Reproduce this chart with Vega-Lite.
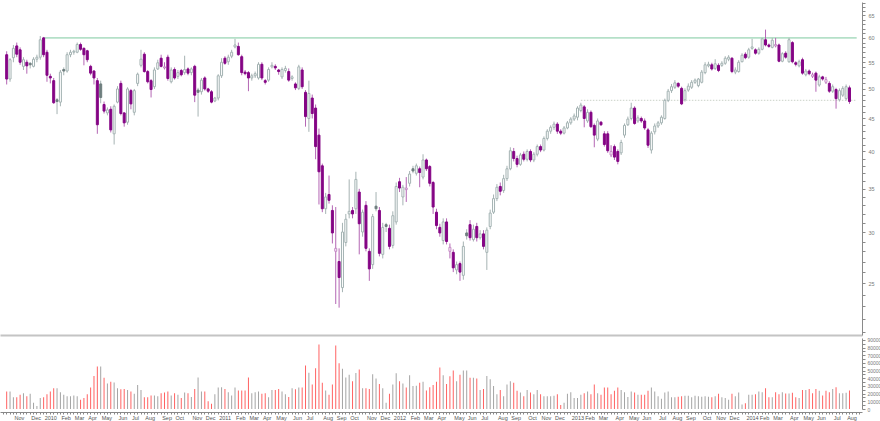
{
"$schema": "https://vega.github.io/schema/vega-lite/v6.json",
"padding": 0,
"background": "white",
"config": {"view": {"stroke": null}, "concat": {"spacing": 1}, "axis": {"labelFont": "Liberation Sans", "titleFont": "Liberation Sans"}},
"resolve": {"scale": {"x": "independent", "y": "independent"}},
"datasets": {
"ohlc": [
{"d":"2009-10-19","o":56.5,"h":57.2,"l":50.8,"c":51.8,"v":22800},
{"d":"2009-10-26","o":51.8,"h":55.8,"l":51.3,"c":55.5,"v":22800},
{"d":"2009-11-02","o":55.9,"h":58.5,"l":55,"c":57.8,"v":15200},
{"d":"2009-11-09","o":58.3,"h":59,"l":56,"c":56.6,"v":15200},
{"d":"2009-11-16","o":57.5,"h":58,"l":54.5,"c":55,"v":18600},
{"d":"2009-11-23","o":54.2,"h":56,"l":53.5,"c":55.5,"v":20700},
{"d":"2009-11-30","o":55,"h":55.5,"l":52.8,"c":54.3,"v":16500},
{"d":"2009-12-07","o":54.8,"h":55,"l":53.8,"c":54.5,"v":19900},
{"d":"2009-12-14","o":54.2,"h":56,"l":54,"c":55.6,"v":8000},
{"d":"2009-12-21","o":55.6,"h":56.5,"l":55,"c":56,"v":3800},
{"d":"2009-12-28","o":56,"h":60.4,"l":55.5,"c":59.6,"v":14400},
{"d":"2010-01-04","o":60,"h":60.2,"l":56,"c":56.5,"v":15200},
{"d":"2010-01-11","o":57,"h":57.5,"l":51.3,"c":52.5,"v":19400},
{"d":"2010-01-18","o":52.3,"h":52.8,"l":51,"c":52,"v":22800},
{"d":"2010-01-25","o":51.5,"h":52,"l":47.4,"c":47.6,"v":27000},
{"d":"2010-02-01","o":48.1,"h":48.4,"l":45.7,"c":47.8,"v":27000},
{"d":"2010-02-08","o":47.7,"h":53.5,"l":47,"c":53.1,"v":21900},
{"d":"2010-02-15","o":53.6,"h":54,"l":52.5,"c":53.3,"v":18600},
{"d":"2010-02-22","o":53.3,"h":57,"l":53,"c":56.5,"v":16500},
{"d":"2010-03-01","o":56.5,"h":57.5,"l":56,"c":57,"v":16500},
{"d":"2010-03-08","o":57,"h":57.5,"l":56.5,"c":57.2,"v":17700},
{"d":"2010-03-15","o":57,"h":59,"l":56.8,"c":58.6,"v":16500},
{"d":"2010-03-22","o":58.6,"h":59,"l":57.3,"c":57.6,"v":12200},
{"d":"2010-03-29","o":57.8,"h":58,"l":54.4,"c":56.5,"v":14400},
{"d":"2010-04-05","o":57.3,"h":57.5,"l":55,"c":55.5,"v":19400},
{"d":"2010-04-12","o":54.2,"h":54.5,"l":52.5,"c":52.9,"v":27900},
{"d":"2010-04-19","o":53.3,"h":53.5,"l":50.8,"c":52,"v":43100},
{"d":"2010-04-26","o":51.5,"h":52,"l":42.6,"c":44,"v":55300},
{"d":"2010-05-03","o":50.9,"h":51.5,"l":47.5,"c":48.5,"v":55300},
{"d":"2010-05-10","o":47.3,"h":47.8,"l":45.8,"c":46.2,"v":40600},
{"d":"2010-05-17","o":45.9,"h":46.8,"l":45.5,"c":46.4,"v":33400},
{"d":"2010-05-24","o":46.5,"h":47,"l":42.8,"c":43.2,"v":35500},
{"d":"2010-05-31","o":42.6,"h":47.3,"l":41,"c":47,"v":34600},
{"d":"2010-06-07","o":47.7,"h":50.5,"l":47.5,"c":50,"v":27000},
{"d":"2010-06-14","o":51,"h":51.5,"l":45.5,"c":45.8,"v":25800},
{"d":"2010-06-21","o":45.9,"h":46,"l":43.7,"c":44.3,"v":26200},
{"d":"2010-06-28","o":44.4,"h":50.3,"l":44,"c":50,"v":24900},
{"d":"2010-07-05","o":49.7,"h":50,"l":46.5,"c":47.4,"v":22800},
{"d":"2010-07-12","o":46,"h":50,"l":45.5,"c":49.7,"v":19900},
{"d":"2010-07-19","o":51,"h":53,"l":50.5,"c":52.7,"v":31300},
{"d":"2010-07-26","o":54.4,"h":57.5,"l":54,"c":55.6,"v":24900},
{"d":"2010-08-02","o":56.6,"h":57,"l":53,"c":53.2,"v":15200},
{"d":"2010-08-09","o":53.2,"h":53.5,"l":51,"c":51.3,"v":15200},
{"d":"2010-08-16","o":51.5,"h":51.8,"l":48.5,"c":49.9,"v":17700},
{"d":"2010-08-23","o":50.4,"h":54,"l":50,"c":53.5,"v":17700},
{"d":"2010-08-30","o":53.7,"h":55.5,"l":53.5,"c":54.9,"v":16500},
{"d":"2010-09-06","o":55.8,"h":56.5,"l":54,"c":54.2,"v":20700},
{"d":"2010-09-13","o":53.9,"h":55,"l":53.6,"c":54.1,"v":21500},
{"d":"2010-09-20","o":56,"h":56.5,"l":51.5,"c":51.9,"v":22800},
{"d":"2010-09-27","o":51.3,"h":54,"l":51,"c":53.5,"v":17700},
{"d":"2010-10-04","o":53.6,"h":54,"l":51.7,"c":52,"v":20700},
{"d":"2010-10-11","o":52.3,"h":53.5,"l":51.8,"c":53,"v":18600},
{"d":"2010-10-18","o":53.4,"h":53.7,"l":52.3,"c":52.6,"v":14400},
{"d":"2010-10-25","o":53,"h":56.3,"l":52.6,"c":53.6,"v":21500},
{"d":"2010-11-01","o":53.7,"h":54,"l":52.5,"c":52.9,"v":20700},
{"d":"2010-11-08","o":53,"h":54,"l":52.5,"c":53.7,"v":15600},
{"d":"2010-11-15","o":54.2,"h":54.5,"l":47.7,"c":48.9,"v":26200},
{"d":"2010-11-22","o":49.8,"h":50.2,"l":45.3,"c":49.4,"v":41000},
{"d":"2010-11-29","o":49.5,"h":52,"l":49,"c":51.6,"v":22800},
{"d":"2010-12-06","o":52,"h":52.3,"l":49.7,"c":50,"v":22800},
{"d":"2010-12-13","o":50,"h":50.2,"l":49.3,"c":49.6,"v":10100},
{"d":"2010-12-20","o":49.5,"h":49.8,"l":47.5,"c":47.7,"v":6800},
{"d":"2010-12-27","o":47.9,"h":48.6,"l":47.7,"c":48.4,"v":19400},
{"d":"2011-01-03","o":48.4,"h":52.7,"l":48,"c":52.4,"v":27900},
{"d":"2011-01-10","o":52.4,"h":55.8,"l":52,"c":55,"v":28300},
{"d":"2011-01-17","o":55.8,"h":56.2,"l":54.5,"c":54.8,"v":26200},
{"d":"2011-01-24","o":55.1,"h":56.5,"l":54.5,"c":56,"v":21900},
{"d":"2011-01-31","o":56.2,"h":57.5,"l":55.8,"c":57,"v":17700},
{"d":"2011-02-07","o":58.1,"h":59.8,"l":57.8,"c":58.5,"v":27900},
{"d":"2011-02-14","o":58.2,"h":59,"l":56.3,"c":56.5,"v":24100},
{"d":"2011-02-21","o":56.1,"h":56.5,"l":52.5,"c":53,"v":24100},
{"d":"2011-02-28","o":53.1,"h":53.5,"l":52.5,"c":52.8,"v":24100},
{"d":"2011-03-07","o":53,"h":53.3,"l":49.6,"c":52,"v":41000},
{"d":"2011-03-14","o":52,"h":52.8,"l":51.5,"c":52.4,"v":20700},
{"d":"2011-03-21","o":52.4,"h":53.2,"l":52,"c":52.8,"v":21900},
{"d":"2011-03-28","o":52,"h":55,"l":51.7,"c":54.6,"v":22800},
{"d":"2011-04-04","o":54.6,"h":55,"l":51.6,"c":52,"v":19900},
{"d":"2011-04-11","o":51.5,"h":51.8,"l":50.8,"c":51.2,"v":20700},
{"d":"2011-04-18","o":51.6,"h":54,"l":51.3,"c":53.6,"v":15200},
{"d":"2011-04-25","o":54.1,"h":55,"l":53.8,"c":54.4,"v":24900},
{"d":"2011-05-02","o":54.2,"h":54.6,"l":53.5,"c":53.9,"v":24900},
{"d":"2011-05-09","o":53.5,"h":53.7,"l":52.6,"c":53.2,"v":26200},
{"d":"2011-05-16","o":52.2,"h":54,"l":51.8,"c":53.6,"v":22800},
{"d":"2011-05-23","o":53.4,"h":54.3,"l":53,"c":53.8,"v":19400},
{"d":"2011-05-30","o":53.2,"h":53.8,"l":51.3,"c":51.6,"v":15600},
{"d":"2011-06-06","o":51.9,"h":52.5,"l":51.5,"c":52.2,"v":27000},
{"d":"2011-06-13","o":50.9,"h":51.2,"l":49.8,"c":50.2,"v":25800},
{"d":"2011-06-20","o":50.1,"h":54.5,"l":49.8,"c":54.1,"v":27900},
{"d":"2011-06-27","o":53.5,"h":54,"l":50,"c":50.4,"v":27900},
{"d":"2011-07-04","o":49.4,"h":49.8,"l":43.7,"c":45.3,"v":56600},
{"d":"2011-07-11","o":45,"h":51.5,"l":42.9,"c":49.2,"v":47300},
{"d":"2011-07-18","o":48.4,"h":49,"l":45,"c":45.8,"v":32100},
{"d":"2011-07-25","o":46.7,"h":47.3,"l":38.9,"c":40.7,"v":53200},
{"d":"2011-08-01","o":42.4,"h":43.4,"l":33.1,"c":37.2,"v":84100},
{"d":"2011-08-08","o":38,"h":38.3,"l":32.2,"c":32.6,"v":34200},
{"d":"2011-08-15","o":32.6,"h":34.5,"l":32,"c":34,"v":24100},
{"d":"2011-08-22","o":34.3,"h":36.7,"l":33.2,"c":33.6,"v":18600},
{"d":"2011-08-29","o":32.4,"h":33,"l":28.8,"c":29.9,"v":32100},
{"d":"2011-09-05","o":28,"h":32.8,"l":23.2,"c":28.3,"v":82800},
{"d":"2011-09-12","o":27,"h":28.3,"l":22.9,"c":25.5,"v":59600},
{"d":"2011-09-19","o":24.6,"h":31,"l":24.2,"c":30,"v":52400},
{"d":"2011-09-26","o":28.9,"h":32,"l":28.5,"c":31.4,"v":41000},
{"d":"2011-10-03","o":32,"h":36.2,"l":31.5,"c":32.3,"v":44800},
{"d":"2011-10-10","o":32.4,"h":32.8,"l":31.5,"c":32,"v":36300},
{"d":"2011-10-17","o":32.6,"h":37.2,"l":32,"c":36.2,"v":46900},
{"d":"2011-10-24","o":34.6,"h":35,"l":27.7,"c":30.9,"v":51500},
{"d":"2011-10-31","o":30,"h":32.5,"l":29.5,"c":32.2,"v":27000},
{"d":"2011-11-07","o":33,"h":33.5,"l":28,"c":28.3,"v":27000},
{"d":"2011-11-14","o":28,"h":28.3,"l":25.2,"c":26.3,"v":26200},
{"d":"2011-11-21","o":26.7,"h":32,"l":26.3,"c":31.7,"v":45200},
{"d":"2011-11-28","o":32.9,"h":34.6,"l":32.3,"c":32.6,"v":39700},
{"d":"2011-12-05","o":32.4,"h":32.8,"l":27.5,"c":27.8,"v":32500},
{"d":"2011-12-12","o":27.7,"h":31,"l":27.3,"c":30.5,"v":27000},
{"d":"2011-12-19","o":30.8,"h":31,"l":30,"c":30.6,"v":8000},
{"d":"2011-12-26","o":30.4,"h":30.8,"l":28.2,"c":28.5,"v":19900},
{"d":"2012-01-02","o":28.6,"h":32.3,"l":28.3,"c":31.8,"v":32100},
{"d":"2012-01-09","o":31.1,"h":35.8,"l":30.8,"c":35.3,"v":46500},
{"d":"2012-01-16","o":35.9,"h":36.4,"l":34.6,"c":35.1,"v":36300},
{"d":"2012-01-23","o":34,"h":35.5,"l":33,"c":35.2,"v":33400},
{"d":"2012-01-30","o":34.9,"h":36.5,"l":33.4,"c":35.1,"v":27900},
{"d":"2012-02-06","o":35.7,"h":37.3,"l":35.3,"c":36.9,"v":43900},
{"d":"2012-02-13","o":37.6,"h":38,"l":37,"c":37.3,"v":30000},
{"d":"2012-02-20","o":37,"h":38.3,"l":36.7,"c":38,"v":30400},
{"d":"2012-02-27","o":37.6,"h":37.9,"l":35.2,"c":37.1,"v":34200},
{"d":"2012-03-05","o":36.5,"h":39.6,"l":36.2,"c":38.8,"v":35500},
{"d":"2012-03-12","o":38.8,"h":39,"l":37.3,"c":37.6,"v":24100},
{"d":"2012-03-19","o":37.9,"h":38.1,"l":35.3,"c":35.7,"v":28300},
{"d":"2012-03-26","o":35.8,"h":36,"l":32,"c":32.8,"v":31300},
{"d":"2012-04-02","o":32.2,"h":32.6,"l":30.3,"c":30.7,"v":35500},
{"d":"2012-04-09","o":30.5,"h":30.9,"l":29.5,"c":29.9,"v":54100},
{"d":"2012-04-16","o":29.1,"h":31.5,"l":28.7,"c":31.1,"v":43900},
{"d":"2012-04-23","o":31.1,"h":31.5,"l":28.7,"c":29,"v":32500},
{"d":"2012-04-30","o":28,"h":28.8,"l":27.3,"c":28.4,"v":42700},
{"d":"2012-05-07","o":27.9,"h":28.2,"l":26,"c":26.4,"v":50300},
{"d":"2012-05-14","o":26.2,"h":27,"l":25.8,"c":26.7,"v":36300},
{"d":"2012-05-21","o":26.8,"h":27,"l":25.2,"c":26,"v":44800},
{"d":"2012-05-28","o":25.7,"h":29,"l":25.3,"c":28.5,"v":50300},
{"d":"2012-06-04","o":29.9,"h":30.3,"l":29.2,"c":29.6,"v":50300},
{"d":"2012-06-11","o":30.8,"h":31.3,"l":29.1,"c":29.4,"v":40600},
{"d":"2012-06-18","o":29.2,"h":30.8,"l":29,"c":30.3,"v":40600},
{"d":"2012-06-25","o":30.6,"h":31,"l":29,"c":29.4,"v":39700},
{"d":"2012-07-02","o":29.4,"h":30.2,"l":29.2,"c":29.8,"v":24900},
{"d":"2012-07-09","o":29.8,"h":30.2,"l":28.2,"c":28.5,"v":26200},
{"d":"2012-07-16","o":27.9,"h":30.5,"l":26.2,"c":30.2,"v":43100},
{"d":"2012-07-23","o":30.6,"h":32.5,"l":30.3,"c":32.1,"v":38900},
{"d":"2012-07-30","o":32.2,"h":34.3,"l":32,"c":33.8,"v":30000},
{"d":"2012-08-06","o":33.8,"h":35.6,"l":33.5,"c":35.2,"v":19400},
{"d":"2012-08-13","o":35.3,"h":35.8,"l":34.2,"c":34.7,"v":24900},
{"d":"2012-08-20","o":34.8,"h":36.8,"l":34.5,"c":36.3,"v":16500},
{"d":"2012-08-27","o":36.3,"h":38,"l":36,"c":37.6,"v":32100},
{"d":"2012-09-03","o":37.6,"h":40.6,"l":37.4,"c":40.1,"v":36300},
{"d":"2012-09-10","o":40,"h":40.5,"l":38.6,"c":39,"v":34200},
{"d":"2012-09-17","o":39,"h":39.4,"l":37.8,"c":38.2,"v":23700},
{"d":"2012-09-24","o":38.2,"h":39.8,"l":38,"c":39.5,"v":21500},
{"d":"2012-10-01","o":39.6,"h":40,"l":38.6,"c":38.9,"v":16500},
{"d":"2012-10-08","o":38.9,"h":40.3,"l":38.6,"c":40,"v":24900},
{"d":"2012-10-15","o":40,"h":40.3,"l":38.5,"c":38.8,"v":21500},
{"d":"2012-10-22","o":38.8,"h":39.9,"l":38.5,"c":39.6,"v":19400},
{"d":"2012-10-29","o":39.6,"h":41,"l":39.3,"c":40.7,"v":24900},
{"d":"2012-11-05","o":40.7,"h":41,"l":39.9,"c":40.2,"v":19400},
{"d":"2012-11-12","o":40.2,"h":42.2,"l":40,"c":41.9,"v":16500},
{"d":"2012-11-19","o":41.9,"h":43.3,"l":41.6,"c":43,"v":16500},
{"d":"2012-11-26","o":43,"h":43.9,"l":42.6,"c":43.6,"v":16500},
{"d":"2012-12-03","o":43.6,"h":44.5,"l":43.2,"c":44.1,"v":17300},
{"d":"2012-12-10","o":44.1,"h":44.4,"l":42.6,"c":43,"v":19400},
{"d":"2012-12-17","o":43,"h":43.3,"l":42.4,"c":42.7,"v":5100},
{"d":"2012-12-24","o":42.7,"h":43.8,"l":42.5,"c":43.5,"v":8000},
{"d":"2012-12-31","o":43.5,"h":44.6,"l":43.3,"c":44.3,"v":19900},
{"d":"2013-01-07","o":44.3,"h":45.2,"l":44,"c":44.9,"v":21900},
{"d":"2013-01-14","o":44.9,"h":45.8,"l":44.6,"c":45.4,"v":14400},
{"d":"2013-01-21","o":45.2,"h":47,"l":44.7,"c":46.7,"v":14400},
{"d":"2013-01-28","o":46.3,"h":47.6,"l":46,"c":47.2,"v":18600},
{"d":"2013-02-04","o":46.9,"h":47.2,"l":43.6,"c":45,"v":20700},
{"d":"2013-02-11","o":44.6,"h":46.5,"l":44.3,"c":46,"v":22800},
{"d":"2013-02-18","o":46,"h":46.3,"l":43.5,"c":43.7,"v":19400},
{"d":"2013-02-25","o":43.9,"h":44.2,"l":40.6,"c":42.4,"v":32100},
{"d":"2013-03-04","o":41.8,"h":45,"l":41.5,"c":44.6,"v":20700},
{"d":"2013-03-11","o":44.4,"h":44.6,"l":43.8,"c":44,"v":18600},
{"d":"2013-03-18","o":42.6,"h":43,"l":40.7,"c":41,"v":27900},
{"d":"2013-03-25","o":42.6,"h":43,"l":39.8,"c":40.1,"v":27900},
{"d":"2013-04-01","o":39.5,"h":40.9,"l":39.2,"c":40,"v":19400},
{"d":"2013-04-08","o":40.7,"h":41,"l":38.8,"c":39.2,"v":23700},
{"d":"2013-04-15","o":40,"h":40.3,"l":38.2,"c":38.6,"v":27900},
{"d":"2013-04-22","o":39.8,"h":41.7,"l":39.5,"c":41.3,"v":24900},
{"d":"2013-04-29","o":42.4,"h":44.2,"l":42,"c":43.9,"v":21900},
{"d":"2013-05-06","o":44,"h":45.3,"l":43.8,"c":44.9,"v":15600},
{"d":"2013-05-13","o":45,"h":47.6,"l":44.7,"c":46.7,"v":22800},
{"d":"2013-05-20","o":46.7,"h":47,"l":44,"c":44.2,"v":21500},
{"d":"2013-05-27","o":44.6,"h":45.5,"l":44.3,"c":45.1,"v":18600},
{"d":"2013-06-03","o":45,"h":45.3,"l":44.3,"c":44.6,"v":18600},
{"d":"2013-06-10","o":44.6,"h":45,"l":43.2,"c":43.5,"v":18600},
{"d":"2013-06-17","o":43.2,"h":43.5,"l":40.5,"c":40.9,"v":23700},
{"d":"2013-06-24","o":40.2,"h":43,"l":39.7,"c":42.7,"v":27900},
{"d":"2013-07-01","o":42.9,"h":44.2,"l":42.5,"c":43.8,"v":22800},
{"d":"2013-07-08","o":43.8,"h":44.6,"l":43.5,"c":44.3,"v":16500},
{"d":"2013-07-15","o":44.3,"h":45.5,"l":44,"c":45.2,"v":13500},
{"d":"2013-07-22","o":45,"h":48.3,"l":44.8,"c":48,"v":21500},
{"d":"2013-07-29","o":48,"h":50,"l":47.7,"c":49.6,"v":22800},
{"d":"2013-08-05","o":49.7,"h":50.9,"l":49.3,"c":50.4,"v":15200},
{"d":"2013-08-12","o":50.3,"h":51.6,"l":50,"c":51.1,"v":15200},
{"d":"2013-08-19","o":51,"h":51.2,"l":50.2,"c":50.5,"v":16000},
{"d":"2013-08-26","o":50.1,"h":50.4,"l":47.2,"c":47.4,"v":16500},
{"d":"2013-09-02","o":48.1,"h":50.1,"l":47.8,"c":49.7,"v":17300},
{"d":"2013-09-09","o":49.8,"h":51,"l":49.5,"c":50.5,"v":17300},
{"d":"2013-09-16","o":50.3,"h":51.6,"l":50,"c":51.2,"v":15200},
{"d":"2013-09-23","o":51.2,"h":51.9,"l":50.9,"c":51.6,"v":17300},
{"d":"2013-09-30","o":50.6,"h":52,"l":50.3,"c":51.8,"v":16500},
{"d":"2013-10-07","o":51.2,"h":53.5,"l":51,"c":53.1,"v":16100},
{"d":"2013-10-14","o":53,"h":55,"l":52.7,"c":54.5,"v":16500},
{"d":"2013-10-21","o":54.3,"h":55.1,"l":54,"c":54.6,"v":16100},
{"d":"2013-10-28","o":54.5,"h":54.9,"l":53.4,"c":53.7,"v":15200},
{"d":"2013-11-04","o":53.8,"h":55.6,"l":53.5,"c":54.7,"v":16500},
{"d":"2013-11-11","o":54.4,"h":54.8,"l":53.1,"c":53.4,"v":19900},
{"d":"2013-11-18","o":54.4,"h":55.2,"l":54.1,"c":54.8,"v":15200},
{"d":"2013-11-25","o":54.8,"h":56.2,"l":54.5,"c":55.8,"v":14400},
{"d":"2013-12-02","o":55.6,"h":56.4,"l":55.2,"c":56,"v":12200},
{"d":"2013-12-09","o":55.8,"h":56,"l":52.9,"c":53.2,"v":19900},
{"d":"2013-12-16","o":53.1,"h":54,"l":52.7,"c":53.5,"v":16500},
{"d":"2013-12-23","o":53.2,"h":55.4,"l":53,"c":55,"v":21500},
{"d":"2013-12-30","o":55.1,"h":56.8,"l":55,"c":56.4,"v":5900},
{"d":"2014-01-06","o":56.6,"h":57,"l":55.6,"c":55.9,"v":7600},
{"d":"2014-01-13","o":56,"h":57.9,"l":55.7,"c":57.5,"v":18600},
{"d":"2014-01-20","o":57.8,"h":59.8,"l":57.5,"c":58.1,"v":18600},
{"d":"2014-01-27","o":57.5,"h":57.8,"l":56.5,"c":56.8,"v":19400},
{"d":"2014-02-03","o":56.8,"h":58,"l":56.5,"c":57.6,"v":22800},
{"d":"2014-02-10","o":57.6,"h":60,"l":57.4,"c":59.8,"v":21900},
{"d":"2014-02-17","o":59.6,"h":61.8,"l":58.2,"c":58.5,"v":27000},
{"d":"2014-02-24","o":58.5,"h":58.8,"l":57.9,"c":58.2,"v":15200},
{"d":"2014-03-03","o":58,"h":60,"l":57.8,"c":59.5,"v":15200},
{"d":"2014-03-10","o":58.3,"h":60,"l":58,"c":58.6,"v":21900},
{"d":"2014-03-17","o":58.5,"h":58.8,"l":55,"c":55.2,"v":19400},
{"d":"2014-03-24","o":55.2,"h":57,"l":55,"c":56.7,"v":21900},
{"d":"2014-03-31","o":56.8,"h":57.2,"l":55.7,"c":56,"v":20300},
{"d":"2014-04-07","o":55.1,"h":60,"l":54.9,"c":59.6,"v":20300},
{"d":"2014-04-14","o":59,"h":59.3,"l":54.8,"c":55.1,"v":21100},
{"d":"2014-04-21","o":54.9,"h":55.2,"l":54.2,"c":54.6,"v":15200},
{"d":"2014-04-28","o":54.3,"h":55.5,"l":54,"c":55.1,"v":14400},
{"d":"2014-05-05","o":55.5,"h":55.9,"l":52.6,"c":52.9,"v":24900},
{"d":"2014-05-12","o":52.6,"h":53.7,"l":52.3,"c":53.3,"v":24900},
{"d":"2014-05-19","o":53.3,"h":53.6,"l":52.5,"c":52.8,"v":26200},
{"d":"2014-05-26","o":52.3,"h":53,"l":52,"c":52.6,"v":20700},
{"d":"2014-06-02","o":52.9,"h":53.2,"l":49.5,"c":51.6,"v":26200},
{"d":"2014-06-09","o":50.7,"h":52.6,"l":50.4,"c":52.2,"v":23700},
{"d":"2014-06-16","o":52.2,"h":52.4,"l":51.5,"c":51.8,"v":17700},
{"d":"2014-06-23","o":51.2,"h":52.2,"l":50.9,"c":51.7,"v":23700},
{"d":"2014-06-30","o":51,"h":51.4,"l":49.3,"c":49.6,"v":21900},
{"d":"2014-07-07","o":49.6,"h":50.8,"l":49.3,"c":50.4,"v":26200},
{"d":"2014-07-14","o":49.9,"h":50.2,"l":46.6,"c":48.3,"v":28300},
{"d":"2014-07-21","o":48.1,"h":50.1,"l":47.8,"c":49.7,"v":20700},
{"d":"2014-07-28","o":48.9,"h":50.5,"l":48.6,"c":50.1,"v":20700},
{"d":"2014-08-04","o":48.3,"h":50.8,"l":48,"c":50.4,"v":21100},
{"d":"2014-08-11","o":50.2,"h":50.6,"l":47.4,"c":47.8,"v":24100}
],
"levels": [
{"d1":"2010-01-04","d2":"2014-08-26","p":60,"kind":"resistance"},
{"d1":"2013-01-28","d2":"2014-08-26","p":48,"kind":"support"}
]
},
"vconcat": [
{
"width": 862,
"height": 333,
"layer": [
{
"data": {"name": "levels"},
"transform": [{"filter": "datum.kind == 'resistance'"}],
"mark": {"type": "rule", "color": "#b5e0c8", "strokeWidth": 1.6},
"encoding": {
"x": {"field": "d1", "type": "temporal", "scale": {"type": "utc", "domain": [{"year":2009,"month":10,"date":15,"hours":12,"utc":true},{"year":2014,"month":8,"date":26,"hours":16,"utc":true}]}, "axis": {"labels": false, "ticks": false, "domain": true, "domainColor": "#c4c4c4", "domainWidth": 2, "title": null, "grid": false}},
"x2": {"field": "d2"},
"y": {"field": "p", "type": "quantitative", "scale": {"type": "log", "domain": [20.77, 68.2], "nice": false, "zero": false}, "axis": {"orient": "right", "title": null, "grid": false, "values": [21,22,23,24,25,26,27,28,29,30,31,32,33,34,35,36,37,38,39,40,41,42,43,44,45,46,47,48,49,50,51,52,53,54,55,56,57,58,59,60,61,62,63,64,65,66,67,68], "labelExpr": "datum.value % 5 == 0 ? datum.value : ''", "tickSize": 3, "tickColor": "#8a8a8a", "domainColor": "#8a8a8a", "labelFontSize": 5.5, "labelColor": "#7a7a7a", "labelPadding": 3, "labelOverlap": false}}
}
},
{
"data": {"name": "levels"},
"transform": [{"filter": "datum.kind == 'support'"}],
"mark": {"type": "rule", "color": "#d4dad2", "strokeWidth": 1.4, "strokeDash": [1.5, 1.5]},
"encoding": {
"x": {"field": "d1", "type": "temporal"},
"x2": {"field": "d2"},
"y": {"field": "p", "type": "quantitative"}
}
},
{
"data": {"name": "ohlc"},
"transform": [{"window": [{"op": "lag", "field": "c", "as": "pc"}], "sort": [{"field": "d", "order": "ascending"}]}],
"mark": {"type": "rule", "strokeWidth": 1},
"encoding": {
"x": {"field": "d", "type": "temporal"},
"y": {"field": "l", "type": "quantitative"},
"y2": {"field": "h"},
"color": {"condition": {"test": "datum.pc == null ? datum.c < datum.o : datum.c < datum.pc", "value": "#b466b4"}, "value": "#a6b3b3"}
}
},
{
"data": {"name": "ohlc"},
"transform": [{"window": [{"op": "lag", "field": "c", "as": "pc"}], "sort": [{"field": "d", "order": "ascending"}]}],
"mark": {"type": "bar", "size": 2, "strokeWidth": 1},
"encoding": {
"x": {"field": "d", "type": "temporal"},
"y": {"field": "o", "type": "quantitative"},
"y2": {"field": "c"},
"fill": {"condition": [
{"test": "datum.c < datum.o && (datum.pc == null || datum.c < datum.pc)", "value": "#850585"},
{"test": "datum.c < datum.o", "value": "#6e7e7e"}
], "value": "#ffffff"},
"stroke": {"condition": [
{"test": "datum.c < datum.o && (datum.pc == null || datum.c < datum.pc)", "value": "#850585"},
{"test": "datum.c < datum.o", "value": "#6e7e7e"},
{"test": "datum.pc != null && datum.c < datum.pc", "value": "#c487c4"}
], "value": "#a3b2b2"}
}
}
]
},
{
"width": 862,
"height": 71,
"data": {"name": "ohlc"},
"transform": [{"window": [{"op": "lag", "field": "c", "as": "pc"}], "sort": [{"field": "d", "order": "ascending"}]}],
"mark": {"type": "bar", "size": 1},
"encoding": {
"x": {"field": "d", "type": "temporal", "scale": {"type": "utc", "domain": [{"year":2009,"month":10,"date":15,"hours":12,"utc":true},{"year":2014,"month":8,"date":26,"hours":16,"utc":true}]}, "axis": {"title": null, "grid": false, "offset": 3, "tickCount": {"interval": "week", "step": 1}, "labelExpr": "utcdate(datum.value) <= 7 ? (utcmonth(datum.value) == 0 ? utcFormat(datum.value, '%Y') : utcFormat(datum.value, '%b')) : ''", "labelOverlap": false, "labelAlign": "left", "labelOffset": 1, "labelFlush": false, "labelBound": false, "labelFontSize": 5.5, "labelColor": "#555555", "labelPadding": 1, "tickSize": 2, "tickColor": "#888888", "domainColor": "#888888"}},
"y": {"field": "v", "type": "quantitative", "scale": {"domain": [0, 92600], "nice": false}, "axis": {"orient": "right", "title": null, "grid": false, "values": [0,5000,10000,15000,20000,25000,30000,35000,40000,45000,50000,55000,60000,65000,70000,75000,80000,85000,90000], "labelExpr": "datum.value % 10000 == 0 ? datum.value : ''", "tickSize": 3, "tickColor": "#8a8a8a", "domainColor": "#8a8a8a", "labelFontSize": 5, "labelColor": "#7a7a7a", "labelPadding": 2, "labelOverlap": false}},
"color": {"condition": {"test": "datum.pc == null ? datum.c < datum.o : datum.c < datum.pc", "value": "#ff6262"}, "value": "#a4a4a4"}
}
}
]
}
